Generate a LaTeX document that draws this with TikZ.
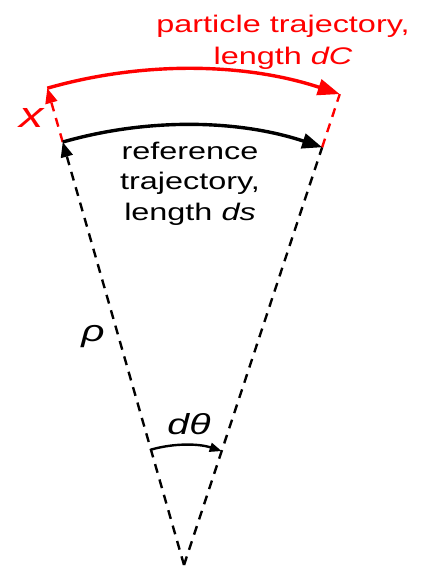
\documentclass[tikz,border=0pt]{standalone}
\usepackage{fontspec}
\setmainfont{Liberation Sans}[FakeStretch=1.35]
\usetikzlibrary{arrows.meta}
\begin{document}
\begin{tikzpicture}[x=1pt,y=1pt,
  radial/.style={line width=2.4pt,dash pattern=on 9pt off 7pt},
  redradial/.style={radial,red},
  arcline/.style={line width=3.4pt},
  bigtip/.style={-{Triangle[length=20pt,width=15pt]}},
  smalltip/.style={-{Triangle[length=15pt,width=12pt]}},
  tinytip/.style={-{Triangle[length=12pt,width=9pt]}},
  lbl/.style={inner sep=0pt,align=center}]
\useasboundingbox (0,0) rectangle (441,570);
\coordinate (O) at (184,5);
\path (O) ++(106:440) coordinate (A1) (O) ++(71.7:440) coordinate (B1)
      (O) ++(106:496) coordinate (A2) (O) ++(71.7:496) coordinate (B2)
      (O) ++(106:120) coordinate (C1) (O) ++(71.7:120) coordinate (C2);
% radial lines
\draw[radial,smalltip] (O) -- (A1);
\draw[radial] (O) -- (B1);
\draw[redradial,smalltip] (A1) -- (A2);
\draw[redradial] (B1) -- (B2);
% arcs
\draw[arcline,bigtip] (A1) arc[start angle=106,end angle=71.7,radius=440];
\draw[arcline,red,-{Triangle[length=22pt,width=16pt]}] (A2) arc[start angle=106,end angle=71.7,radius=496];
\draw[line width=2.4pt,tinytip] (C1) arc[start angle=106,end angle=71.7,radius=120];
% labels
\node[lbl,red,font=\fontsize{24}{32}\selectfont] (ptxt) at (283,528) {particle trajectory,\\length \textit{dC}};
\node[lbl,font=\fontsize{24}{30.5}\selectfont] (rtxt) at (190,386.5) {reference\\trajectory,\\length \textit{ds}};
\node[lbl,red,font=\fontsize{36}{40}\selectfont] (xl) at (32,452) {\textit{x}};
\node[lbl,font=\fontsize{30}{34}\selectfont] (rho) at (93,233) {\textit{ρ}};
\node[lbl,font=\fontsize{29}{34}\selectfont] (dth) at (189,146) {\textit{dθ}};
\end{tikzpicture}
\end{document}
